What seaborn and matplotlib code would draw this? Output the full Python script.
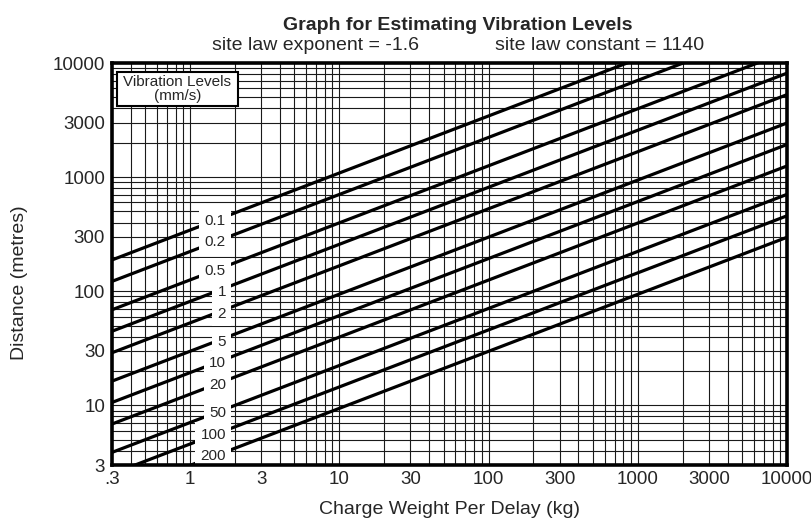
import numpy as np
import pandas as pd
import matplotlib
matplotlib.use("Agg")
import matplotlib.pyplot as plt
from matplotlib.ticker import LogLocator, NullFormatter, FixedLocator, FixedFormatter
from matplotlib.patches import Rectangle
import seaborn as sns

# ---- data ----
levels = ["0.1", "0.2", "0.5", "1", "2", "5", "10", "20", "50", "100", "200"]
charge_start = 0.3
charge_end = 10000
dist_at_start = [188, 122, 68.8, 44.6, 28.9, 16.3, 10.6, 6.86, 3.87, 2.51, 1.63]
dist_at_end = [34350, 22270, 12560, 8145, 5280, 2980, 1931, 1252, 706, 458, 297]

x_ticks = [0.3, 1, 3, 10, 30, 100, 300, 1000, 3000, 10000]
x_ticklabels = [".3", "1", "3", "10", "30", "100", "300", "1000", "3000", "10000"]
y_ticks = [3, 10, 30, 100, 300, 1000, 3000, 10000]
y_ticklabels = ["3", "10", "30", "100", "300", "1000", "3000", "10000"]

title = "Graph for Estimating Vibration Levels"
subtitle_left = "site law exponent = -1.6"
subtitle_right = "site law constant = 1140"

rows = []
for lv, d0, d1 in zip(levels, dist_at_start, dist_at_end):
    rows.append({"level": lv, "W": charge_start, "D": d0})
    rows.append({"level": lv, "W": charge_end, "D": d1})
df = pd.DataFrame(rows)

sns.set_style("white")
plt.rcParams["font.family"] = ["Liberation Sans", "DejaVu Sans"]

W, H = 812, 519
fig = plt.figure(figsize=(W / 100, H / 100), dpi=100)
left, right, top, bottom = 112, 787, 63, 465
ax = fig.add_axes([left / W, 1 - bottom / H, (right - left) / W, (bottom - top) / H])

sns.lineplot(data=df, x="W", y="D", units="level", estimator=None,
             color="black", linewidth=2.3, ax=ax, legend=False, zorder=3)

ax.set_xscale("log")
ax.set_yscale("log")
ax.set_xlim(0.3, 10000)
ax.set_ylim(3, 10000)

ax.xaxis.set_major_locator(FixedLocator(x_ticks))
ax.xaxis.set_major_formatter(FixedFormatter(x_ticklabels))
ax.yaxis.set_major_locator(FixedLocator(y_ticks))
ax.yaxis.set_major_formatter(FixedFormatter(y_ticklabels))
for axis in (ax.xaxis, ax.yaxis):
    axis.set_minor_locator(LogLocator(base=10, subs=np.arange(1, 10), numticks=100))
    axis.set_minor_formatter(NullFormatter())

ax.grid(True, which="both", color="#1a1a1a", linewidth=0.8, zorder=1)
ax.set_axisbelow(True)
ax.tick_params(which="both", length=0)
ax.tick_params(axis="x", labelsize=13.5, pad=4)
ax.tick_params(axis="y", labelsize=13.5, pad=5)
for s in ax.spines.values():
    s.set_visible(True)
    s.set_linewidth(2.6)
    s.set_color("black")
    s.set_zorder(5)

ax.set_xlabel("Charge Weight Per Delay (kg)", fontsize=14)
ax.set_ylabel("Distance (metres)", fontsize=14)
ax.xaxis.set_label_coords(0.5, (bottom - 510) / (bottom - top))
ax.xaxis.label.set_va("center")
ax.yaxis.set_label_coords((20 - left) / (right - left), (bottom - 283) / (bottom - top))
ax.yaxis.label.set_va("center")

# labels on lines
lx_text = 1.74
lx_center = 1.45
lw0, lw1 = np.log10(charge_start), np.log10(charge_end)
for lv, d0, d1 in zip(levels, dist_at_start, dist_at_end):
    f = (np.log10(lx_center) - lw0) / (lw1 - lw0)
    ly = 10 ** (np.log10(d0) + f * (np.log10(d1) - np.log10(d0)))
    ax.text(lx_text, ly, lv, ha="right", va="center", fontsize=11, zorder=4,
            bbox=dict(boxstyle="square,pad=0.35", facecolor="white", edgecolor="none"))

# legend box
bx0, by0 = (117 - left) / (right - left), (bottom - 106) / (bottom - top)
bw, bh = 121 / (right - left), 34 / (bottom - top)
ax.add_patch(Rectangle((bx0, by0), bw, bh, transform=ax.transAxes, facecolor="white",
                       edgecolor="black", linewidth=1.5, zorder=6))
ax.text(bx0 + bw / 2, by0 + bh / 2, "Vibration Levels\n(mm/s)", transform=ax.transAxes,
        ha="center", va="center", fontsize=11, linespacing=1.05, zorder=7)

fig.text(458 / W, 1 - 25 / H, title, ha="center", va="center", fontsize=14, fontweight="bold")
fig.text(212 / W, 1 - 45 / H, subtitle_left, ha="left", va="center", fontsize=14)
fig.text(495 / W, 1 - 45 / H, subtitle_right, ha="left", va="center", fontsize=14)

fig.savefig("out.png", dpi=100)
